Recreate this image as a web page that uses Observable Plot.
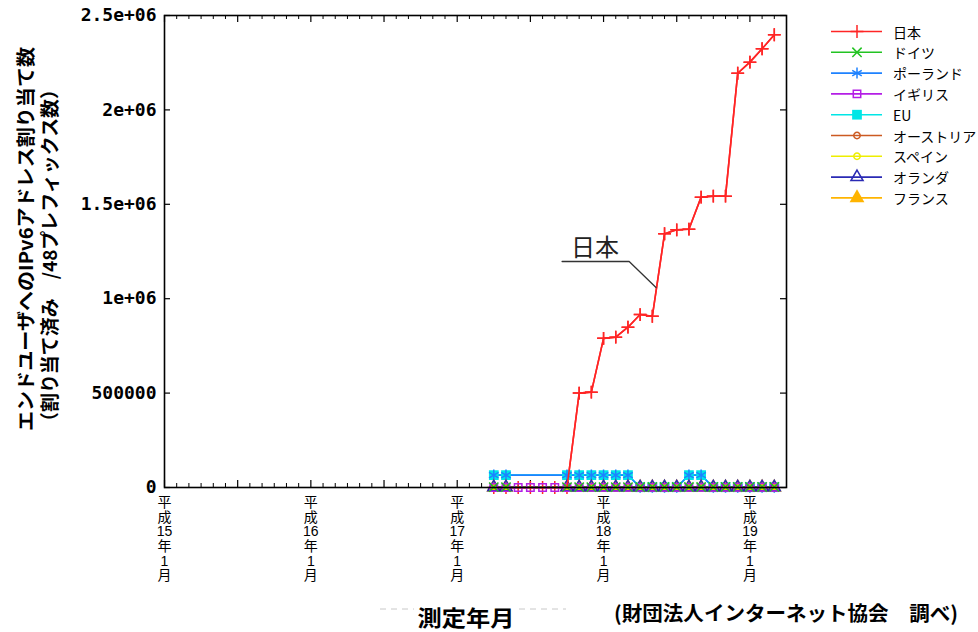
<!DOCTYPE html>
<html><head><meta charset="utf-8">
<script src="https://cdn.jsdelivr.net/npm/d3@7"></script>
<script src="https://cdn.jsdelivr.net/npm/@observablehq/plot@0.6"></script>
<style>
body{margin:0;background:#fff}
#chart{position:relative;width:978px;height:632px}
</style>
</head><body><div id="chart"></div>
<script>
// ---------- data ----------
const months = ["2005-04","2005-05","2005-06","2005-07","2005-08","2005-09","2005-10","2005-11","2005-12",
  "2006-01","2006-02","2006-03","2006-04","2006-05","2006-06","2006-07","2006-08","2006-09","2006-10","2006-11","2006-12",
  "2007-01","2007-02","2007-03"];
const japan       = [0,0,0,0,0,0,0,500000,505000,790000,796000,849000,916000,907000,1344000,1365000,1368000,1538000,1543000,1543000,2194000,2253000,2324000,2398000];
const germany     = [2000,2000,null,null,null,null,2100,2100,2200,2200,2300,2300,2400,2400,2500,2500,2600,2600,2700,2700,2800,2800,2900,3000];
const poland      = [65536,65536,null,null,null,null,65536,65536,65536,65536,65536,65536,1000,1000,1000,1000,65536,65536,1000,1000,1000,1000,1000,1000];
const uk          = [500,500,500,500,500,500,500,500,600,600,600,600,700,700,700,700,800,800,800,800,900,900,900,900];
const eu          = [65536,65536,null,null,null,null,65536,65536,65536,65536,65536,65536,1500,1500,1500,1500,65536,65536,1500,1500,1500,1500,1500,1500];
const austria     = [300,300,null,null,null,null,300,300,300,300,400,400,400,400,400,400,500,500,500,500,500,500,500,500];
const spain       = [200,200,null,null,null,null,200,200,200,200,300,300,300,300,300,300,300,300,400,400,400,400,400,400];
const netherlands = [800,800,null,null,null,null,800,800,900,900,900,900,1000,1000,1000,1000,1100,1100,1100,1100,1200,1200,1200,1200];
const france      = [400,400,null,null,null,null,400,400,400,400,500,500,500,500,500,500,600,600,600,600,600,600,600,600];

const seriesNames  = ["日本","ドイツ","ポーランド","イギリス","EU","オーストリア","スペイン","オランダ","フランス"];
const seriesValues = [japan, germany, poland, uk, eu, austria, spain, netherlands, france];

const xTickMonths = ["2003-01","2004-01","2005-01","2006-01","2007-01"];
const xTickLabels = ["平\n成\n15\n年\n1\n月","平\n成\n16\n年\n1\n月","平\n成\n17\n年\n1\n月","平\n成\n18\n年\n1\n月","平\n成\n19\n年\n1\n月"];
const yTicks      = [0, 500000, 1000000, 1500000, 2000000, 2500000];
const yTickLabels = ["0","500000","1e+06","1.5e+06","2e+06","2.5e+06"];

const annotationLeader = [{month:"2005-09", offset:0.6, v:1197000},{month:"2006-03", offset:0.1, v:1197000},{month:"2006-05", offset:0.3, v:1059000}];
const annotationText   = {month:"2005-12", offset:0.3, v:1266000, text:"日本"};

// ---------- styles ----------
const styles = {
  "日本":       {color:"#ff2525", symbol:"plus",     r:4.2, filled:false},
  "ドイツ":     {color:"#22c322", symbol:"times",    r:4.3, filled:false},
  "ポーランド": {color:"#1e82ff", symbol:"asterisk", r:5.2, filled:false},
  "イギリス":   {color:"#b41ee6", symbol:"square",   r:4.2, filled:false},
  "EU":         {color:"#00e6e6", symbol:"square",   r:5.5, filled:true},
  "オーストリア":{color:"#cc5a22", symbol:"circle",   r:3.2, filled:false},
  "スペイン":   {color:"#eeee00", symbol:"circle",   r:3.2, filled:false},
  "オランダ":   {color:"#2a2ab4", symbol:"triangle", r:4.5, filled:false},
  "フランス":   {color:"#ffb400", symbol:"triangle", r:5.5, filled:true}
};
const drawOrder = ["日本","EU","ポーランド","スペイン","オーストリア","フランス","オランダ","イギリス","ドイツ"];

// month string -> months since Jan 2003
const mIdx = s => { const [y,m] = s.split("-").map(Number); return (y-2003)*12 + (m-1); };

const rows = [];
seriesNames.forEach((name, si) => {
  seriesValues[si].forEach((v, i) => { if (v != null) rows.push({name, m: mIdx(months[i]), v}); });
});

const W = 978, H = 632, mL = 164, mR = 192, mT = 15, mB = 145;
const frameW = W - mL - mR, frameH = H - mT - mB;

const allMonths = d3.range(mIdx("2003-01"), mIdx("2007-04") + 1);
const minor = allMonths.filter(m => m % 6 !== 0);
const major = allMonths.filter(m => m % 6 === 0);

const marks = [];
// ticks
marks.push(Plot.ruleX(minor, {x: d => d, insetTop: frameH - 4, stroke: "#000", strokeWidth: 1}));
marks.push(Plot.ruleX(minor, {x: d => d, insetBottom: frameH - 4, stroke: "#000", strokeWidth: 1}));
marks.push(Plot.ruleX(major, {x: d => d, insetTop: frameH - 7, stroke: "#000", strokeWidth: 1.2}));
marks.push(Plot.ruleX(major, {x: d => d, insetBottom: frameH - 7, stroke: "#000", strokeWidth: 1.2}));
marks.push(Plot.ruleY(yTicks, {y: d => d, insetRight: frameW - 6, stroke: "#000", strokeWidth: 1.2}));
marks.push(Plot.ruleY(yTicks, {y: d => d, insetLeft: frameW - 6, stroke: "#000", strokeWidth: 1.2}));

// series lines then markers
for (const name of drawOrder) {
  const st = styles[name];
  const d = rows.filter(r => r.name === name);
  marks.push(Plot.line(d, {x: "m", y: "v", stroke: st.color, strokeWidth: 1.6}));
}
for (const name of drawOrder) {
  const st = styles[name];
  const d = rows.filter(r => r.name === name);
  marks.push(Plot.dot(d, {x: "m", y: "v", symbol: () => st.symbol, r: st.r,
    fill: st.filled ? st.color : "none", stroke: st.filled ? "none" : st.color, strokeWidth: 1.5}));
}
// Japan's rising part drawn on top
const japanRise = rows.filter(r => r.name === "日本" && r.m >= mIdx("2005-10"));
marks.push(Plot.line(japanRise, {x: "m", y: "v", stroke: styles["日本"].color, strokeWidth: 1.6}));
marks.push(Plot.dot(japanRise.filter(r => r.v > 0), {x: "m", y: "v", symbol: "plus", r: styles["日本"].r,
  stroke: styles["日本"].color, strokeWidth: 1.5}));

// annotation
marks.push(Plot.line(annotationLeader, {x: d => mIdx(d.month) + d.offset, y: "v", stroke: "#333", strokeWidth: 1.3}));
marks.push(Plot.text([annotationText], {x: d => mIdx(d.month) + d.offset, y: "v", text: "text", fontSize: 24, fill: "#222",
  fontFamily: "'Noto Sans CJK JP', sans-serif"}));

// frame
marks.push(Plot.frame({stroke: "#000", strokeWidth: 1.6}));

// y tick labels
marks.push(Plot.text(yTicks, {y: d => d, text: (d, i) => yTickLabels[i], frameAnchor: "left", dx: -8, textAnchor: "end",
  fontFamily: "'DejaVu Sans Mono', monospace", fontWeight: "bold", fontSize: 18, fill: "#000"}));
// x tick labels
marks.push(Plot.text(xTickMonths, {x: d => mIdx(d), text: (d, i) => xTickLabels[i], frameAnchor: "bottom", dy: 9, lineAnchor: "top",
  lineHeight: 1.05, fontSize: 14, fill: "#000", fontFamily: "'Liberation Sans', 'Noto Sans CJK JP', sans-serif"}));

const chart = Plot.plot({
  width: W, height: H,
  marginLeft: mL, marginRight: mR, marginTop: mT, marginBottom: mB,
  style: {background: "#fff", fontFamily: "'Noto Sans CJK JP', sans-serif", overflow: "visible"},
  x: {type: "linear", domain: [mIdx("2003-01"), mIdx("2007-04")], axis: null},
  y: {type: "linear", domain: [0, 2500000], axis: null},
  marks
});
document.getElementById("chart").appendChild(chart);

// ---------- extra text & legend ----------
const svg = d3.select(chart);
const jp = "'Noto Sans CJK JP', sans-serif";

// y title (two rotated lines)
svg.append("text").attr("transform", "translate(24,431) rotate(-90)")
  .attr("dominant-baseline", "central").attr("text-anchor", "start")
  .attr("font-family", jp).attr("font-weight", "bold").attr("font-size", 19)
  .attr("textLength", 384).attr("lengthAdjust", "spacingAndGlyphs")
  .text("エンドユーザへのIPv6アドレス割り当て数");
svg.append("text").attr("transform", "translate(48,431) rotate(-90)")
  .attr("dominant-baseline", "central").attr("text-anchor", "start")
  .attr("font-family", jp).attr("font-weight", "bold").attr("font-size", 19)
  .attr("textLength", 351).attr("lengthAdjust", "spacingAndGlyphs")
  .text("（割り当て済み　/48プレフィックス数）");

// bottom captions
svg.append("line").attr("x1", 380).attr("x2", 414).attr("y1", 609).attr("y2", 609)
  .attr("stroke", "#c8c8c8").attr("stroke-dasharray", "6,5");
svg.append("line").attr("x1", 519).attr("x2", 566).attr("y1", 609).attr("y2", 609)
  .attr("stroke", "#c8c8c8").attr("stroke-dasharray", "6,5");
svg.append("text").attr("x", 466).attr("y", 616).attr("dominant-baseline", "central").attr("text-anchor", "middle")
  .attr("font-family", jp).attr("font-weight", "bold").attr("font-size", 22)
  .attr("textLength", 97).attr("lengthAdjust", "spacingAndGlyphs").text("測定年月");
svg.append("text").attr("x", 614).attr("y", 612).attr("dominant-baseline", "central").attr("text-anchor", "start")
  .attr("font-family", jp).attr("font-weight", "bold").attr("font-size", 20)
  .attr("textLength", 344).attr("lengthAdjust", "spacingAndGlyphs").text("(財団法人インターネット協会　調べ)");

// legend
const symMap = {plus: d3.symbolPlus, times: d3.symbolTimes, asterisk: d3.symbolAsterisk, square: d3.symbolSquare,
  circle: d3.symbolCircle, triangle: d3.symbolTriangle};
const lg = svg.append("g").attr("text-anchor", "start");
seriesNames.forEach((name, i) => {
  const st = styles[name];
  const y = 31.5 + i * 20.8;
  lg.append("line").attr("x1", 831).attr("x2", 882).attr("y1", y).attr("y2", y)
    .attr("stroke", st.color).attr("stroke-width", 1.6);
  lg.append("path").attr("transform", `translate(857,${y})`)
    .attr("d", d3.symbol().type(symMap[st.symbol]).size(Math.PI * st.r * st.r)())
    .attr("fill", st.filled ? st.color : "none").attr("stroke", st.filled ? "none" : st.color).attr("stroke-width", 1.5);
  lg.append("text").attr("x", 893).attr("y", y).attr("dominant-baseline", "central").attr("text-anchor", "start")
    .attr("font-family", jp).attr("font-size", 14).attr("fill", "#000").text(name);
});
</script>
</body></html>
